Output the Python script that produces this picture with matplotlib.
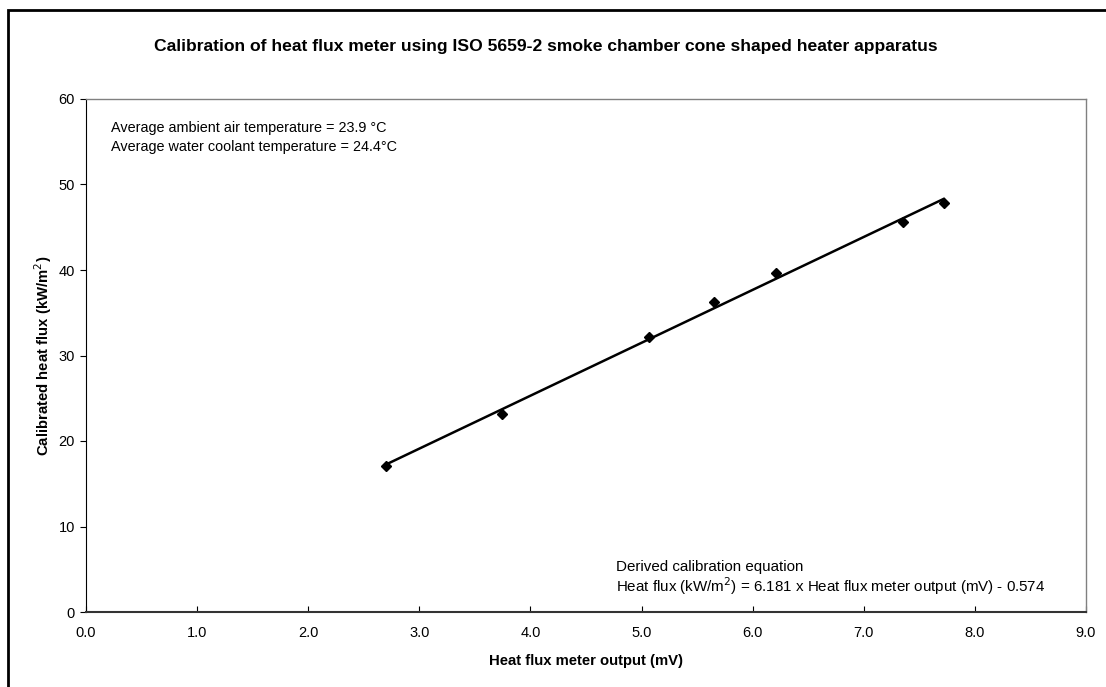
import numpy as np
import matplotlib
matplotlib.use("Agg")
from matplotlib import pyplot as plt
from matplotlib.patches import Rectangle

plt.rcParams['font.family'] = ['Liberation Sans', 'DejaVu Sans']

# readings
meter_mv = [2.70, 3.74, 5.07, 5.65, 6.21, 7.35, 7.72]
heat_flux = [17.1, 23.1, 32.2, 36.2, 39.7, 45.6, 47.8]
x_ticks = [0, 1, 2, 3, 4, 5, 6, 7, 8, 9]
y_ticks = [0, 10, 20, 30, 40, 50, 60]

W, H = 1106, 687
fig = plt.figure(figsize=(W / 100, H / 100), dpi=100)
ax = fig.add_axes([86 / W, 1 - 612 / H, 1000 / W, 513 / H])

# linear trendline through the readings
coef = np.polyfit(meter_mv, heat_flux, 1)
xs = np.array([min(meter_mv), max(meter_mv)])
ax.plot(xs, np.polyval(coef, xs), color='black', lw=1.8, zorder=2)
ax.plot(meter_mv, heat_flux, 'D', color='black', ms=5, zorder=3)

ax.set_xlim(0, 9)
ax.set_ylim(0, 60)
ax.set_xticks(x_ticks)
ax.set_xticklabels(['%.1f' % t for t in x_ticks])
ax.set_yticks(y_ticks)
ax.tick_params(axis='x', direction='in', length=4, labelsize=10.5, pad=10)
ax.tick_params(axis='y', direction='out', length=4, labelsize=10.5, pad=4)

for s in ['top', 'right']:
    ax.spines[s].set_color('#808080')
    ax.spines[s].set_linewidth(1)
ax.spines['left'].set_color('black')
ax.spines['bottom'].set_color('#333333')
ax.spines['bottom'].set_linewidth(1.5)

ax.set_xlabel('Heat flux meter output (mV)', fontsize=10.7, fontweight='bold', labelpad=10)
ax.set_ylabel('Calibrated heat flux (kW/m$^2$)', fontsize=10.7, fontweight='bold', labelpad=3)

def px(x, y):
    return ((x - 86) / 1000, (612 - y) / 513)

ax.text(*px(111, 128), 'Average ambient air temperature = 23.9 °C',
        transform=ax.transAxes, fontsize=10.4, va='center', ha='left')
ax.text(*px(111, 147), 'Average water coolant temperature = 24.4°C',
        transform=ax.transAxes, fontsize=10.4, va='center', ha='left')
ax.text(*px(616, 567), 'Derived calibration equation',
        transform=ax.transAxes, fontsize=10.9, va='center', ha='left')
ax.text(*px(616, 586),
        'Heat flux (kW/m$^2$) = 6.181 x Heat flux meter output (mV) - 0.574',
        transform=ax.transAxes, fontsize=10.9, va='center', ha='left')

fig.text(546 / W, 1 - 47 / H,
         'Calibration of heat flux meter using ISO 5659-2 smoke chamber cone shaped heater apparatus',
         fontsize=12.6, fontweight='bold', ha='center', va='center')

# chart area border
fig.patches.append(Rectangle((8 / W, -0.1), 1.2, 1 - 10 / H + 0.1,
                             transform=fig.transFigure, fill=False,
                             edgecolor='black', lw=2))

fig.savefig('out.png', dpi=100)
